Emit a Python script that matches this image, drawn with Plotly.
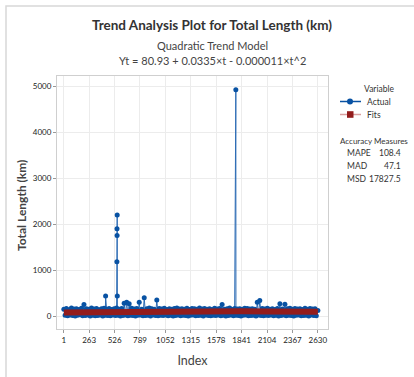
import plotly.graph_objects as go

# ---------------- data ----------------
n_obs = 2630
tick_vals = [1, 263, 526, 789, 1052, 1315, 1578, 1841, 2104, 2367, 2630]

# upper envelope of the dense band (every 26th index starting at 1)
band_hi = [150, 165, 140, 175, 155, 160, 145, 170, 250, 160, 150, 175, 155, 165, 140, 160,
           170, 150, 165, 145, 160, 175, 150, 165, 280, 300, 270, 170, 155, 165, 300, 150,
           400, 160, 175, 160, 150, 350, 165, 155, 170, 145, 160, 150, 165, 175, 155, 160,
           150, 170, 145, 165, 160, 150, 175, 155, 165, 150, 160, 145, 170, 155, 165, 250,
           150, 160, 175, 145, 165, 155, 160, 150, 170, 165, 155, 160, 150, 300, 340, 165,
           155, 170, 150, 160, 145, 165, 270, 155, 260, 160, 170, 150, 165, 155, 160, 145,
           170, 150, 165, 155, 160]
# lower envelope of the dense band (every 26th index starting at 14)
band_lo = [20, 10, 25, 15, 5, 20, 30, 10, 15, 25, 5, 20, 10, 15, 25, 0, 20, 15, 10, 25,
           15, 20, 5, 15, 25, 10, 20, 15, 5, 20, 25, 10, 15, 20, 5, 25, 15, 10, 20, 15,
           25, 10, 20, 5, 15, 25, 10, 20, 15, 5, 20, 25, 10, 15, 20, 5, 25, 15, 10, 20,
           15, 25, 10, 20, 5, 15, 25, 10, 20, 15, 5, 20, 25, 10, 15, 20, 5, 25, 15, 10,
           20, 15, 25, 10, 20, 5, 15, 25, 10, 20, 15, 5, 20, 25, 10, 15, 20, 5, 25, 15, 10]

# isolated large observations
spike_idx = [433, 550, 551, 552, 553, 554, 555, 1781]
spike_val = [435, 1180, 1900, 1755, 2200, 435, 120, 4920]

# fitted quadratic trend read at the tick indices
fit_idx = tick_vals
fit_val = [81, 89, 95, 101, 104, 106, 106, 104, 101, 96, 93]

# legend / accuracy measures
legend_title = "Variable"
series_names = ["Actual", "Fits"]
acc_title = "Accuracy Measures"
acc_names = ["MAPE", "MAD", "MSD"]
acc_vals = ["108.4", "47.1", "17827.5"]

# ---------------- build actual series ----------------
pts = {}
for k, v in enumerate(band_hi):
    pts[1 + 26 * k] = v
for k, v in enumerate(band_lo):
    i = 14 + 26 * k
    if i <= n_obs:
        pts[i] = v
pts[n_obs] = 120
for i, v in zip(spike_idx, spike_val):
    pts[i] = v
act_x = sorted(pts)
act_y = [pts[i] for i in act_x]

BLUE = "#0852a3"
BLUE_LINE = "#2d6cb5"
RED = "#931c1c"
PINK = "#d9a0a0"
FONT = "Lato"
TXT = "#333333"

fig = go.Figure()
fig.add_trace(go.Scatter(x=act_x, y=act_y, mode="lines+markers", name=series_names[0],
                         line=dict(color=BLUE_LINE, width=1),
                         marker=dict(color=BLUE, size=5, symbol="circle"),
                         showlegend=False, hoverinfo="skip"))
fig.add_trace(go.Scatter(x=fit_idx, y=fit_val, mode="lines", name=series_names[1],
                         line=dict(color=RED, width=6),
                         showlegend=False, hoverinfo="skip"))

PW = 271.0  # plot width in px
PH = 253.0  # plot height in px


def px_x(p):
    return (p - 57) / PW


def px_y(p):
    return (329 - p) / PH


shapes = [dict(type="rect", xref="paper", yref="paper",
               x0=px_x(6), x1=2.0, y0=-1.0, y1=px_y(6),
               line=dict(color="#d8d8d8", width=1.5), layer="below")]
# legend glyphs
shapes.append(dict(type="line", xref="paper", yref="paper", x0=px_x(340), x1=px_x(361),
                   y0=px_y(101.5), y1=px_y(101.5), line=dict(color=BLUE, width=1.5)))
shapes.append(dict(type="circle", xref="paper", yref="paper", x0=px_x(347), x1=px_x(353),
                   y0=px_y(104.5), y1=px_y(98.5), fillcolor=BLUE, line=dict(color=BLUE, width=0)))
shapes.append(dict(type="line", xref="paper", yref="paper", x0=px_x(340), x1=px_x(361),
                   y0=px_y(114.5), y1=px_y(114.5), line=dict(color=PINK, width=1.5)))
shapes.append(dict(type="rect", xref="paper", yref="paper", x0=px_x(347), x1=px_x(353.5),
                   y0=px_y(117.8), y1=px_y(111.2), fillcolor=RED, line=dict(color=RED, width=0)))

fig.update_layout(
    width=414, height=377,
    margin=dict(l=57, r=86, t=76, b=48, autoexpand=False),
    paper_bgcolor="white", plot_bgcolor="white",
    font=dict(family=FONT, color=TXT, size=9),
    showlegend=False,
    title=dict(
        text="<b>Trend Analysis Plot for Total Length (km)</b>",
        x=0.512, xanchor="center", y=1 - 25 / 377, yanchor="middle",
        font=dict(family=FONT, size=13.5, color=TXT)),
    xaxis=dict(range=[-70, 2735], tickvals=tick_vals, ticktext=[str(t) for t in tick_vals],
               showgrid=True, gridcolor="#ececec", zeroline=False, automargin=False,
               showline=True, linecolor="#cfcfcf", mirror=True, linewidth=1,
               ticks="outside", ticklen=3, tickcolor="#999",
               tickfont=dict(size=8, color="#222"),
               title=dict(text="Index", font=dict(size=12.5, color="#444"), standoff=12)),
    yaxis=dict(range=[-280, 5220], tickvals=[0, 1000, 2000, 3000, 4000, 5000],
               showgrid=True, gridcolor="#ececec", zeroline=False, automargin=False,
               showline=True, linecolor="#cfcfcf", mirror=True, linewidth=1,
               ticks="outside", ticklen=3, tickcolor="#999",
               tickfont=dict(size=8, color="#222")),
    shapes=shapes,
)


def note(x, y, text, anchor="center", size=9, family=FONT, color="#444", angle=0):
    fig.add_annotation(xref="paper", yref="paper", x=px_x(x), y=px_y(y), xanchor=anchor,
                       yanchor="middle", text=text, showarrow=False, textangle=angle,
                       font=dict(size=size, color=color, family=family))


# y axis title
note(22, 206, "<b>Total Length (km)</b>", size=12, angle=-90)

# subtitle lines
note(212, 45, "Quadratic Trend Model", size=11)
note(212, 61, "Yt = 80.93 + 0.0335×t - 0.000011×t^2", size=11)

# legend texts
note(379, 88.5, legend_title, size=8.5, color=TXT)
note(365, 101.5, series_names[0], anchor="left", size=8.5, color=TXT)
note(365, 114.5, series_names[1], anchor="left", size=8.5, color=TXT)

# accuracy measures block
note(374, 140.5, acc_title, size=8, color=TXT)
for k, (nm, val) in enumerate(zip(acc_names, acc_vals)):
    yy = 153 + k * 12.8
    note(345, yy, nm, anchor="left", size=8.5, color=TXT)
    note(403, yy, val, anchor="right", size=8.5, color=TXT)

fig.write_html("out.html", post_script="document.body.style.margin='0px';",
               config={"displayModeBar": False})
